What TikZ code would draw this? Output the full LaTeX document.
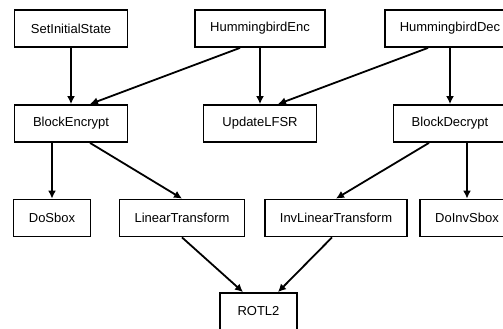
\documentclass[tikz,border=0pt]{standalone}
\usepackage{fontspec}
\setmainfont{Liberation Sans}
\usepackage{tikz}
\usetikzlibrary{shapes,arrows.meta}
\tikzstyle{block} = [draw, rectangle, fill=white, line width=1.8pt, minimum height=37pt, minimum width=77pt, inner xsep=15pt, font=\fontsize{13}{15}\selectfont]
\tikzstyle{wblock} = [block, minimum width=113pt]
\tikzstyle{call} = [->, line width=1.8pt]

\begin{document}
\begin{tikzpicture}[x=1pt, y=1pt, node distance=95pt, >={Latex[length=8pt,width=8pt]}]
    \useasboundingbox (0,0) rectangle (503,329);

    % entry points
    \node [wblock] (setstate) at (71,300.5) {SetInitialState};
    \node [wblock, right of=setstate, node distance=189pt] (henc) {HummingbirdEnc};
    \node [wblock, right of=henc, node distance=190pt] (hdec) {HummingbirdDec};

    % second level
    \node [wblock, below of=setstate] (benc) {BlockEncrypt};
    \node [wblock, below of=henc] (lfsr) {UpdateLFSR};
    \node [wblock, below of=hdec] (bdec) {BlockDecrypt};
    \draw [call] (setstate) -- (benc);
    \draw [call] ([xshift=-20pt]henc.south) -- ([xshift=19pt]benc.north);
    \draw [call] (henc) -- (lfsr);
    \draw [call] ([xshift=-22pt]hdec.south) -- ([xshift=18pt]lfsr.north);
    \draw [call] (hdec) -- (bdec);

    % round functions
    \node [block, below of=benc, node distance=94.5pt, xshift=-19pt] (sbox) {DoSbox};
    \node [block, right of=sbox, node distance=130pt] (lt) {LinearTransform};
    \node [block, right of=lt, node distance=154pt] (ilt) {InvLinearTransform};
    \node [block, right of=ilt, node distance=131pt] (isbox) {DoInvSbox};
    \draw [call] (benc.south -| sbox) -- (sbox);
    \draw [call] ([xshift=19pt]benc.south) -- (lt.north);
    \draw [call] ([xshift=-21pt]bdec.south) -- (ilt.north);
    \draw [call] (bdec.south -| isbox) -- (isbox);

    \node [block, below of=lt, node distance=93.5pt, xshift=76.5pt] (rotl) {ROTL2};
    \draw [call] (lt.south) -- ([xshift=-15.5pt]rotl.north);
    \draw [call] ([xshift=-4pt]ilt.south) -- ([xshift=19.5pt]rotl.north);
\end{tikzpicture}
\end{document}
